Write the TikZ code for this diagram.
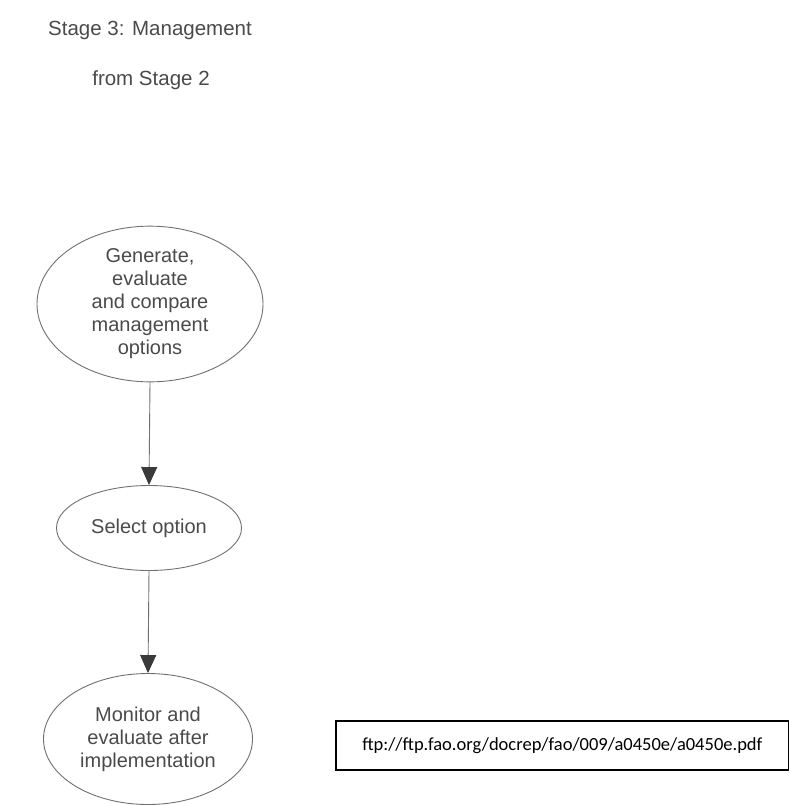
\documentclass[tikz,border=0pt]{standalone}
\usepackage{fontspec}
\setmainfont{Liberation Sans}
\newfontfamily\urlfont{Carlito}
\usetikzlibrary{arrows.meta,positioning,shapes.geometric}
\definecolor{ink}{HTML}{4A4A4A}
\definecolor{rim}{HTML}{707070}
\definecolor{tipc}{HTML}{3A3A3A}
\tikzset{
  oval/.style={ellipse, draw=rim, line width=0.9pt, inner sep=0pt, text=ink, align=center, font=\fontsize{20}{23}\selectfont},
  caption/.style={text=ink, font=\fontsize{20.5}{24}\selectfont},
  flow/.style={-{Triangle[length=18pt,width=16pt,color=tipc]}, line width=0.9pt, draw=rim},
  linkbox/.style={draw=black, line width=1.6pt, inner sep=0pt, font=\urlfont\fontsize{18.5}{22}\selectfont},
}
\begin{document}
\begin{tikzpicture}[x=1pt,y=-1pt]
  \useasboundingbox (0,0) rectangle (789,806);
  % heading
  \node[caption](title) at (150,30){Stage 3: Management};
  \node[caption](prev) at (151,80){from Stage 2};
  % flow of the stage
  \node[oval,minimum width=226pt,minimum height=155pt](gen) at (150,304){Generate,\\evaluate\\and compare\\management\\options};
  \node[oval,minimum width=185pt,minimum height=85pt](sel) at (149,528){Select option};
  \node[oval,minimum width=209pt,minimum height=131pt](mon) at (148,739){Monitor and\\evaluate after\\implementation};
  \draw[flow] (gen.south) -- (sel.north);
  \draw[flow] (sel.south) -- (mon.north);
  % source
  \node[linkbox,minimum width=453pt,minimum height=49pt,anchor=north west](url) at (335,720){ftp://ftp.fao.org/docrep/fao/009/a0450e/a0450e.pdf};
\end{tikzpicture}
\end{document}
